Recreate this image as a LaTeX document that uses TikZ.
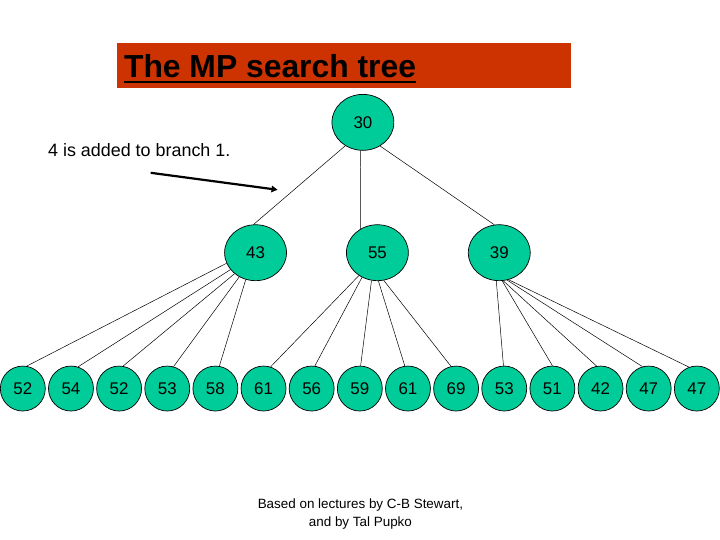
\documentclass[tikz,border=0pt]{standalone}
\usepackage{fontspec}
\setmainfont{Liberation Sans}
\usetikzlibrary{shapes.geometric,arrows.meta}
\definecolor{titlered}{HTML}{CC3300}
\definecolor{nodegreen}{HTML}{00CC99}

\begin{document}
\begin{tikzpicture}[x=1bp, y=-1bp, line width=0.7pt,
  inner/.style={ellipse, draw=black, fill=nodegreen, minimum width=62bp, minimum height=56bp, inner sep=0pt, text height=12bp, text depth=0pt, font=\fontsize{17}{19}\selectfont},
  leaf/.style={circle, draw=black, fill=nodegreen, minimum size=45bp, inner sep=0pt, text height=12bp, text depth=0pt, font=\fontsize{17}{19}\selectfont},
  edge/.style={line width=0.5pt}]
  \path[fill=white] (0,0) rectangle (720,540);

  % title bar
  \node[fill=titlered, minimum width=454bp, minimum height=45bp, inner sep=0pt, anchor=north west] (bar) at (116,43) {};
  \node[anchor=base west, inner sep=0pt, font=\fontsize{32}{36}\selectfont\bfseries] (title) at (123,77.5) {The MP search tree};
  \draw[line width=2.3bp] ([yshift=-4.5bp]title.base west) -- ([yshift=-4.5bp]title.base east);

  % note
  \node[anchor=base west, inner sep=0pt, font=\fontsize{18}{20}\selectfont] (note) at (47,157) {4 is added to branch 1.};
  \coordinate (from) at (150,173);
  \coordinate (to) at (277,190);
  \draw[line width=2.2bp, -{Triangle[length=6bp,width=6.5bp]}] (from) -- (to);

  % inner nodes
  \node[inner] (n30) at (362.5,122.5) {30};
  \node[inner] (n43) at (255,253) {43};
  \node[inner] (n55) at (377,253) {55};
  \node[inner] (n39) at (499,253) {39};

  % leaves
  \foreach \v [count=\i from 0] in {52,54,52,53,58,61,56,59,61,69,53,51,42,47,47}
    \node[leaf] (l\i) at ({22+48.2*\i},389) {\v};

  \draw[edge] (n30.233) -- (n43.94);
  \draw[edge] (n30.265) -- (n55.125);
  \draw[edge] (n30.306) -- (n39.100);
  \foreach \p/\i/\a/\b in {n43/0/200/80, n43/1/214/72, n43/2/225/80, n43/3/236/74, n43/4/250/80,
                           n55/5/231/72, n55/6/238/82, n55/7/258/88, n55/8/272/98, n55/9/283/103,
                           n39/10/264/92, n39/11/276/90, n39/12/278/100, n39/13/286/106, n39/14/289/110}
    \draw[edge] (\p.\a) -- (l\i.\b);

  % credit
  \node[align=center, font=\fontsize{13.5}{18}\selectfont] (credit) at (360,515) {Based on lectures by C-B Stewart,\\and by Tal Pupko};
\end{tikzpicture}
\end{document}
